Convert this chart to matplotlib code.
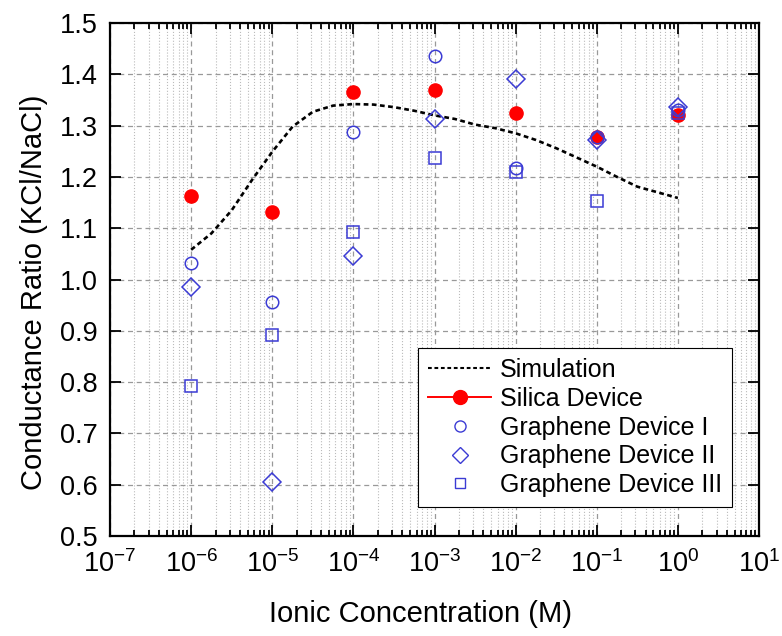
import numpy as np
import matplotlib
matplotlib.use("Agg")
from matplotlib import pyplot as plt
from matplotlib.lines import Line2D
from matplotlib.ticker import LogLocator, NullFormatter, MultipleLocator

plt.rcParams['font.family'] = ['Liberation Sans', 'DejaVu Sans']
plt.rcParams['mathtext.fontset'] = 'custom'
plt.rcParams['mathtext.rm'] = 'Liberation Sans'

conc = [1e-6, 1e-5, 1e-4, 1e-3, 1e-2, 1e-1, 1e0]
silica = [1.162, 1.131, 1.365, 1.369, 1.325, 1.278, 1.320]
graphene_1 = [1.032, 0.957, 1.288, 1.436, 1.217, 1.277, 1.330]
graphene_2 = [0.985, 0.605, 1.046, 1.313, 1.391, 1.272, 1.337]
graphene_3 = [0.792, 0.891, 1.092, 1.237, 1.210, 1.153, 1.325]

# simulation curve, read every quarter decade
sim_log_conc = [-6, -5.75, -5.5, -5.25, -5, -4.75, -4.5, -4.25, -4, -3.75, -3.5, -3.25,
                -3, -2.75, -2.5, -2.25, -2, -1.75, -1.5, -1.25, -1, -0.75, -0.5, -0.25, 0]
sim_ratio = [1.058, 1.090, 1.135, 1.194, 1.249, 1.298, 1.327, 1.339, 1.342, 1.341, 1.336, 1.329,
             1.320, 1.313, 1.302, 1.295, 1.285, 1.272, 1.256, 1.238, 1.220, 1.200, 1.181, 1.170, 1.159]
sim_conc = [10.0 ** v for v in sim_log_conc]

blue = '#3b3bd4'
sim_dash = (0, (1.8, 1.3))

fig = plt.figure(figsize=(7.82, 6.36), dpi=100)
ax = fig.add_axes([0.1407, 0.1572, 0.8299, 0.8066])

ax.plot(sim_conc, sim_ratio, color='black', linestyle=sim_dash, linewidth=1.9, zorder=3)
ax.plot(conc, silica, linestyle='none', marker='o', markersize=9.5,
        color='#ff0000', markeredgecolor='#ff0000', zorder=4)
ax.plot(conc, graphene_1, linestyle='none', marker='o', markersize=9,
        markerfacecolor='none', markeredgecolor=blue, markeredgewidth=1.1, zorder=5)
ax.plot(conc, graphene_2, linestyle='none', marker='D', markersize=9.5,
        markerfacecolor='none', markeredgecolor=blue, markeredgewidth=1.1, zorder=5)
ax.plot(conc, graphene_3, linestyle='none', marker='s', markersize=8,
        markerfacecolor='none', markeredgecolor=blue, markeredgewidth=1.1, zorder=5)

ax.set_xscale('log')
ax.set_xlim(1e-7, 1e1)
ax.set_ylim(0.5, 1.5)
ax.xaxis.set_major_locator(LogLocator(base=10, numticks=20))
ax.xaxis.set_minor_locator(LogLocator(base=10, subs=np.arange(2, 10), numticks=20))
ax.xaxis.set_minor_formatter(NullFormatter())
ax.yaxis.set_major_locator(MultipleLocator(0.1))
ax.yaxis.set_major_formatter(plt.FormatStrFormatter('%.1f'))

ax.grid(which='major', color='#999999', linestyle='--', linewidth=0.9, dashes=(4, 3))
ax.grid(which='minor', axis='x', color='#bbbbbb', linestyle=':', linewidth=0.8)
ax.set_axisbelow(True)

for s in ax.spines.values():
    s.set_linewidth(1.6)
ax.tick_params(which='both', direction='in', top=True, right=True, labelsize=19.5, width=1.3)
ax.tick_params(which='major', length=8)
ax.tick_params(axis='y', which='major', pad=9)
ax.tick_params(axis='x', which='major', pad=10)
ax.tick_params(which='minor', length=4)

ax.set_xlabel('Ionic Concentration (M)', fontsize=21, labelpad=16)
ax.set_ylabel('Conductance Ratio (KCl/NaCl)', fontsize=21, labelpad=8)
ax.xaxis.label.set_x(0.478)
ax.yaxis.label.set_y(0.475)

handles = [
    Line2D([], [], color='black', linestyle=sim_dash, linewidth=1.5),
    Line2D([], [], color='#ff0000', marker='o', markersize=10, linewidth=1.4),
    Line2D([], [], linestyle='none', marker='o', markersize=8, markerfacecolor='none',
           markeredgecolor=blue),
    Line2D([], [], linestyle='none', marker='D', markersize=8.5, markerfacecolor='none',
           markeredgecolor=blue),
    Line2D([], [], linestyle='none', marker='s', markersize=7.5, markerfacecolor='none',
           markeredgecolor=blue),
]
labels = ['Simulation', 'Silica Device', 'Graphene Device I',
          'Graphene Device II', 'Graphene Device III']
leg = ax.legend(handles, labels, loc='lower right', bbox_to_anchor=(0.958, 0.0565),
                borderaxespad=0, fontsize=18, frameon=True, fancybox=False,
                edgecolor='black', framealpha=1, labelspacing=0.19, handlelength=2.5,
                handletextpad=0.35, borderpad=0.4)
leg.get_frame().set_linewidth(0.8)

fig.savefig('out.png', dpi=100)
